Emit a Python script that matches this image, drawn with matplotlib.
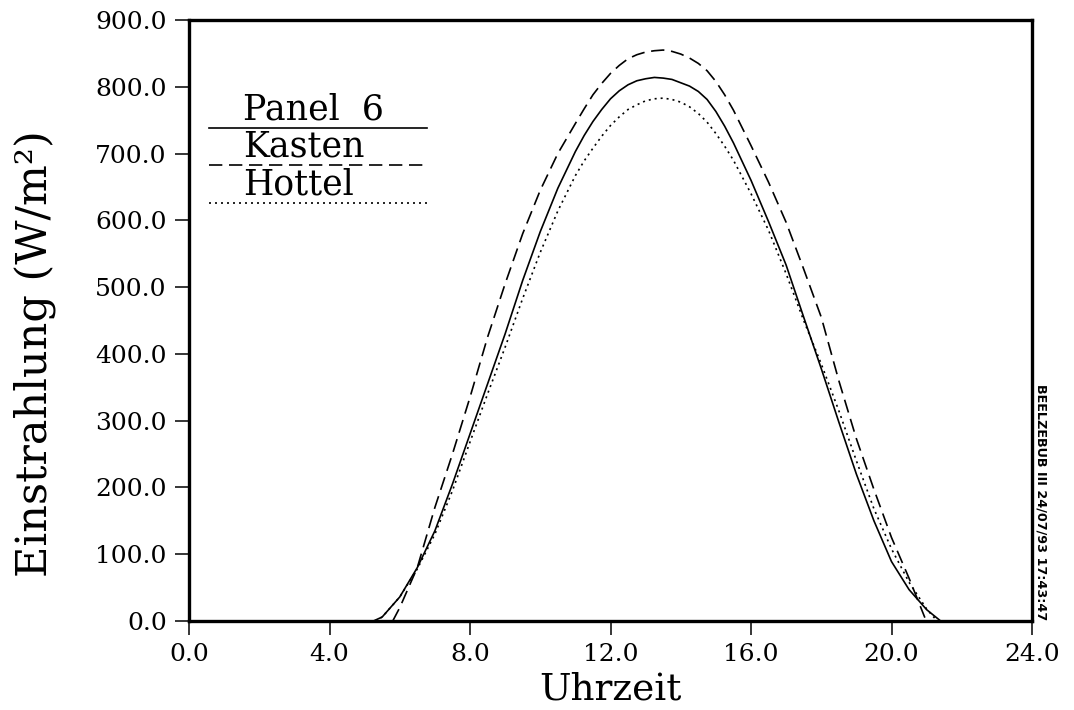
import numpy as np
import matplotlib
matplotlib.use("Agg")
import matplotlib.pyplot as plt

# ---------- Data ----------
hours_panel = [5.0, 5.25, 5.5, 6.0, 6.5, 7.0, 7.5, 8.0, 8.5, 9.0, 9.5, 10.0, 10.5,
               11.0, 11.25, 11.5, 11.75, 12.0, 12.25, 12.5, 12.75, 13.0, 13.25, 13.5,
               13.75, 14.0, 14.25, 14.5, 14.75, 15.0, 15.25, 15.5, 16.0, 16.5, 17.0,
               17.5, 18.0, 18.5, 19.0, 19.5, 20.0, 20.5, 21.0, 21.4, 22.0]
panel6 = [0, 0, 6, 36, 80, 135, 205, 280, 355, 430, 510, 583, 648,
          703, 727, 748, 766, 782, 794, 803, 809, 812, 814, 813,
          811, 806, 801, 793, 781, 763, 741, 716, 660, 598, 533,
          455, 378, 298, 220, 150, 89, 47, 17, 0, 0]

hours_kasten = [5.8, 6.0, 6.5, 7.0, 7.5, 8.0, 8.5, 9.0, 9.5, 10.0, 10.5,
                11.0, 11.25, 11.5, 11.75, 12.0, 12.25, 12.5, 12.75, 13.0, 13.25, 13.5,
                13.75, 14.0, 14.25, 14.5, 14.75, 15.0, 15.25, 15.5, 16.0, 16.5, 17.0,
                17.5, 18.0, 18.5, 19.0, 19.5, 20.0, 20.5, 20.95]
kasten = [0, 20, 80, 170, 250, 335, 425, 505, 580, 645, 700,
          745, 767, 788, 805, 820, 832, 842, 848, 852, 854, 855,
          853, 849, 843, 835, 824, 808, 788, 765, 712, 657, 597,
          527, 455, 360, 273, 197, 125, 64, 5]

hours_hottel = [5.3, 5.5, 6.0, 6.5, 7.0, 7.5, 8.0, 8.5, 9.0, 9.5, 10.0, 10.5,
                11.0, 11.25, 11.5, 11.75, 12.0, 12.25, 12.5, 12.75, 13.0, 13.25, 13.5,
                13.75, 14.0, 14.25, 14.5, 14.75, 15.0, 15.25, 15.5, 16.0, 16.5,
                17.0, 17.5, 18.0, 18.5, 19.0, 19.5, 20.0, 20.5, 21.0, 21.3]
hottel = [0, 6, 36, 78, 130, 195, 268, 340, 410, 483, 552, 614,
          667, 689, 708, 726, 742, 755, 766, 773, 779, 782, 783,
          781, 777, 770, 760, 747, 730, 711, 690, 640, 585,
          520, 450, 385, 315, 240, 168, 108, 58, 18, 0]

x_ticks = [0, 4, 8, 12, 16, 20, 24]
y_ticks = [0, 100, 200, 300, 400, 500, 600, 700, 800, 900]

serif = "DejaVu Serif"
lw = 1.2
dash = (8, 4)
dot = (1.2, 2.4)

# ---------- Figure ----------
fig = plt.figure(figsize=(10.74, 7.10), dpi=100)
ax = fig.add_axes([189 / 1074, 1 - 621 / 710, 843 / 1074, 601 / 710])

ax.plot(hours_panel, panel6, color="black", lw=lw)
ax.plot(hours_kasten, kasten, color="black", lw=lw, dashes=dash)
ax.plot(hours_hottel, hottel, color="black", lw=lw, dashes=dot)

ax.set_xlim(0, 24)
ax.set_ylim(0, 900)
ax.set_xticks(x_ticks)
ax.set_yticks(y_ticks)
ax.set_xticklabels([f"{v:.1f}" for v in x_ticks], fontfamily=serif, fontsize=18)
ax.set_yticklabels([f"{v:.1f}" for v in y_ticks], fontfamily=serif, fontsize=18)
ax.tick_params(direction="out", length=10, width=1.1, top=False, right=False)
ax.tick_params(axis="x", pad=6)
ax.tick_params(axis="y", pad=6)
for s in ax.spines.values():
    s.set_linewidth(2.4)

# axis labels
fig.text(0.5 * (189 + 1032) / 1074, 1 - 689 / 710, "Uhrzeit",
         fontfamily=serif, fontsize=27, ha="center", va="center")
fig.text(35 / 1074, 1 - 354 / 710, "Einstrahlung (W/m²)",
         fontfamily=serif, fontsize=31, rotation=90, ha="center", va="center")

# ---------- legend (line under each name) ----------
leg_names = ["Panel  6", "Kasten", "Hottel"]
leg_styles = [None, dash, dot]
leg_line_y = [0.820, 0.759, 0.6955]
for name, st, ly in zip(leg_names, leg_styles, leg_line_y):
    kw = {} if st is None else {"dashes": st}
    ax.plot([0.0237, 0.282], [ly, ly], transform=ax.transAxes,
            color="black", lw=lw, **kw)
    ax.text(0.064, ly + 0.014, name, transform=ax.transAxes,
            fontfamily=serif, fontsize=25, ha="left", va="baseline")

# stamp on the right edge
fig.text(1041 / 1074, 1 - 620 / 710, "BEELZEBUB III 24/07/93 17:43:47",
         fontsize=9.2, fontweight="bold", rotation=-90, ha="center", va="bottom")

fig.savefig("out.png", dpi=100)
